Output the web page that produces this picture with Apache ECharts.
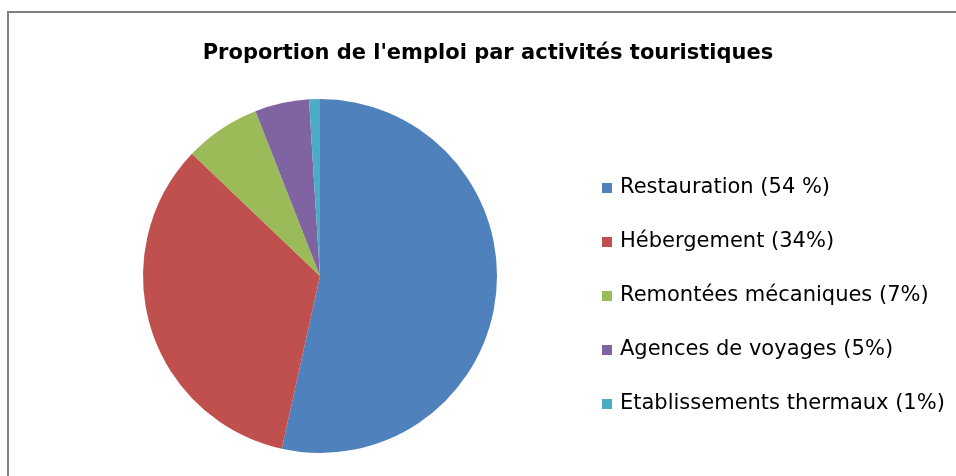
<!DOCTYPE html>
<html>
<head>
<meta charset="utf-8">
<script src="https://cdn.jsdelivr.net/npm/echarts@6/dist/echarts.min.js"></script>
<style>
  html, body { margin: 0; padding: 0; background: #fff; }
  #chart { width: 956px; height: 476px; }
</style>
</head>
<body>
<div id="chart"></div>
<script>
// categories as shown in the legend
var categories = [
  'Restauration (54 %)',
  'Hébergement (34%)',
  'Remontées mécaniques (7%)',
  'Agences de voyages (5%)',
  'Etablissements thermaux (1%)'
]
var shares = [54, 34, 7, 5, 1]
var colors = ['#4F81BD', '#C0504D', '#9BBB59', '#8064A2', '#4BACC6']

var chart = echarts.init(document.getElementById('chart'))
var option = {
  animation: false,
  backgroundColor: '#fff',
  title: {
    text: "Proportion de l'emploi par activités touristiques",
    left: 483,
    textAlign: 'center',
    top: 38,
    textStyle: {
      fontFamily: 'DejaVu Sans',
      fontSize: 21,
      fontWeight: 'bold',
      color: '#000'
    }
  },
  legend: {
    orient: 'vertical',
    left: 597,
    top: 171,
    icon: 'rect',
    itemWidth: 10,
    itemHeight: 10,
    itemGap: 30,
    textStyle: {
      fontFamily: 'DejaVu Sans',
      fontSize: 21,
      lineHeight: 24,
      color: '#000',
      padding: [0, 0, 0, 3]
    },
    data: categories
  },
  graphic: [{
    type: 'polyline',
    shape: { points: [[8, 476], [8, 12], [956, 12]] },
    style: { stroke: '#808080', lineWidth: 2, fill: null }
  }],
  series: [{
    type: 'pie',
    center: [320, 276],
    radius: 177,
    startAngle: 90,
    clockwise: true,
    label: { show: false },
    labelLine: { show: false },
    itemStyle: { borderWidth: 0 },
    data: categories.map(function (name, i) {
      return { name: name, value: shares[i], itemStyle: { color: colors[i] } }
    })
  }]
}
chart.setOption(option)
</script>
</body>
</html>
